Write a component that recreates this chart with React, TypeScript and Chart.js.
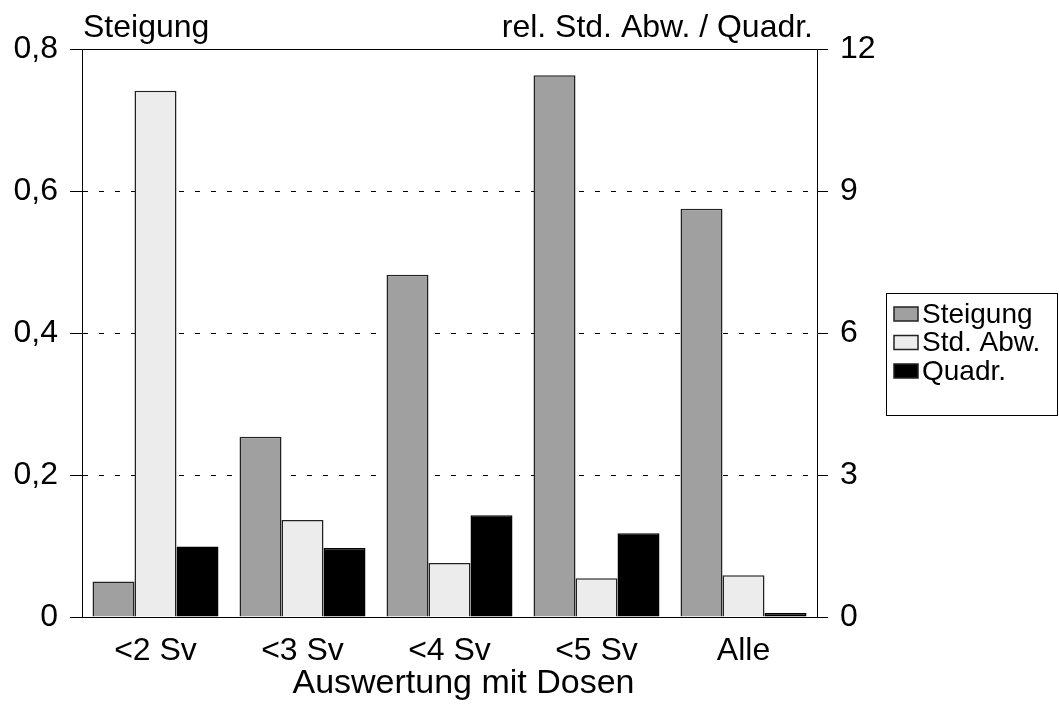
import React, { useEffect, useRef } from 'react';
import { Chart, registerables } from 'chart.js';

Chart.register(...registerables);

const categories = ['<2 Sv', '<3 Sv', '<4 Sv', '<5 Sv', 'Alle'];
const steigung = [0.05, 0.254, 0.482, 0.763, 0.575];
const stdAbw = [11.12, 2.05, 1.14, 0.82, 0.88];
const quadr = [1.49, 1.46, 2.15, 1.77, 0.085];
const leftTickLabels = ['0', '0,2', '0,4', '0,6', '0,8'];
const rightTickLabels = ['0', '3', '6', '9', '12'];
const seriesNames = ['Steigung', 'Std. Abw.', 'Quadr.'];
const leftTitle = 'Steigung';
const rightTitle = 'rel. Std. Abw. / Quadr.';
const xTitle = 'Auswertung mit Dosen';

const FONT = '"Liberation Sans", Arial, Helvetica, sans-serif';
const TICK_SIZE = 32;
const TITLE_SIZE = 32;
const XTITLE_SIZE = 34;
const LEGEND_SIZE = 28;

const overlayPlugin = {
  id: 'overlayTexts',
  afterDraw(chart: any) {
    const ctx = chart.ctx as CanvasRenderingContext2D;
    const { left, right, top, bottom } = chart.chartArea;
    ctx.save();
    ctx.fillStyle = '#000';
    ctx.font = `${TITLE_SIZE}px ${FONT}`;
    ctx.textBaseline = 'alphabetic';
    ctx.textAlign = 'left';
    ctx.fillText(leftTitle, left + 1, top - 12);
    ctx.textAlign = 'right';
    ctx.fillText(rightTitle, right - 4, top - 12);

    // x axis title
    ctx.font = `${XTITLE_SIZE}px ${FONT}`;
    ctx.textAlign = 'center';
    ctx.fillText(xTitle, (left + right) / 2 + 14, bottom + 76);

    // legend box
    const lx = right + 69;
    const ly = 293;
    const lw = 172;
    const lh = 122;
    ctx.lineWidth = 1;
    ctx.strokeStyle = '#000';
    ctx.strokeRect(lx + 0.5, ly + 0.5, lw - 1, lh);
    chart.data.datasets.forEach((ds: any, i: number) => {
      const cy = ly + 21 + i * 28.5;
      ctx.fillStyle = ds.backgroundColor;
      ctx.fillRect(lx + 8, cy - 7, 24, 14);
      ctx.strokeStyle = '#222';
      ctx.lineWidth = 1.5;
      ctx.strokeRect(lx + 8, cy - 7, 24, 14);
      ctx.fillStyle = '#000';
      ctx.font = `${LEGEND_SIZE}px ${FONT}`;
      ctx.textAlign = 'left';
      ctx.textBaseline = 'middle';
      ctx.fillText(ds.label, lx + 36, cy + 1);
    });
    ctx.restore();
  },
};

export default function App() {
  const canvasRef = useRef<HTMLCanvasElement | null>(null);

  useEffect(() => {
    document.body.style.margin = '0';
    const canvas = canvasRef.current;
    if (!canvas) return;
    Chart.defaults.font.family = FONT;
    Chart.defaults.color = '#000';

    const chart = new Chart(canvas, {
      type: 'bar',
      data: {
        labels: categories,
        datasets: [
          {
            label: seriesNames[0],
            data: steigung,
            yAxisID: 'y',
            backgroundColor: '#a0a0a0',
            borderColor: '#222',
            borderWidth: 1.5,
          },
          {
            label: seriesNames[1],
            data: stdAbw,
            yAxisID: 'y1',
            backgroundColor: '#ececec',
            borderColor: '#222',
            borderWidth: 1.5,
          },
          {
            label: seriesNames[2],
            data: quadr,
            yAxisID: 'y1',
            backgroundColor: '#000000',
            borderColor: '#000',
            borderWidth: 1.5,
          },
        ],
      },
      options: {
        animation: false,
        responsive: false,
        maintainAspectRatio: false,
        datasets: {
          bar: {
            categoryPercentage: 0.857,
            barPercentage: 1,
          },
        },
        layout: { padding: { top: 49, left: 0, right: 0, bottom: 0 } },
        plugins: {
          legend: { display: false },
          tooltip: { enabled: false },
        },
        scales: {
          x: {
            type: 'category',
            grid: { display: false, drawTicks: false },
            border: { display: true, color: '#000', width: 1 },
            ticks: {
              font: { size: TICK_SIZE },
              color: '#000',
              padding: 15,
              maxRotation: 0,
              autoSkip: false,
            },
            title: { display: false, text: xTitle },
            afterFit: (scale: any) => {
              scale.height = 94;
            },
          },
          y: {
            position: 'left',
            min: 0,
            max: 0.8,
            ticks: {
              stepSize: 0.2,
              font: { size: TICK_SIZE },
              color: '#000',
              padding: 12,
              callback: (_v: any, i: number) => leftTickLabels[i],
            },
            grid: {
              color: '#000',
              lineWidth: 1,
              drawTicks: true,
              tickLength: 12,
              tickColor: '#000',
              tickWidth: 1,
            },
            border: {
              display: true,
              color: '#000',
              width: 1,
              dash: (ctx: any) =>
                ctx.index === 0 || ctx.index === leftTickLabels.length - 1 ? [] : [5, 11],
            },
            afterFit: (scale: any) => {
              scale.width = 82;
            },
          },
          y1: {
            position: 'right',
            min: 0,
            max: 12,
            ticks: {
              stepSize: 3,
              font: { size: TICK_SIZE },
              color: '#000',
              padding: 12,
              callback: (_v: any, i: number) => rightTickLabels[i],
            },
            grid: {
              drawOnChartArea: false,
              drawTicks: true,
              tickLength: 11,
              tickColor: '#000',
              tickWidth: 1,
            },
            border: { display: true, color: '#000', width: 1 },
            afterFit: (scale: any) => {
              scale.width = 242;
            },
          },
        },
      },
      plugins: [overlayPlugin],
    });

    return () => {
      chart.destroy();
    };
  }, []);

  return (
    <div style={{ position: 'absolute', left: 0, top: 0, width: 1059, height: 711, background: '#fff' }}>
      <canvas ref={canvasRef} width={1059} height={711} style={{ display: 'block' }} />
    </div>
  );
}
